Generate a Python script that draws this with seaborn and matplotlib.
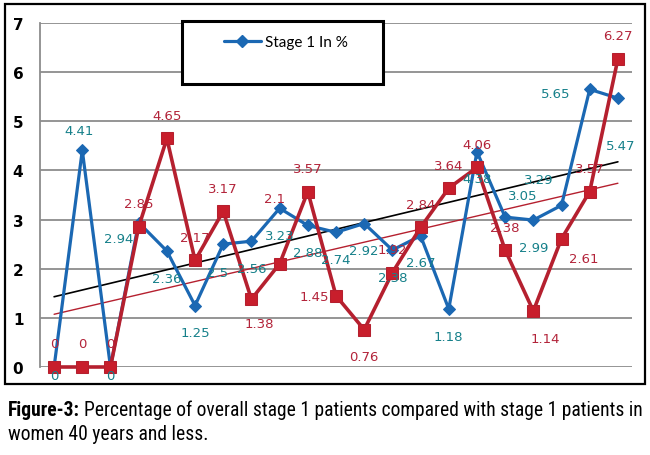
import numpy as np
import pandas as pd
import matplotlib.pyplot as plt
import seaborn as sns
from matplotlib import font_manager
from matplotlib.patches import Rectangle
from matplotlib.lines import Line2D

# values (21 consecutive groups, no x labels shown)
overall_stage1 = [0, 4.41, 0, 2.94, 2.36, 1.25, 2.5, 2.56, 3.23, 2.88, 2.74,
                  2.92, 2.38, 2.67, 1.18, 4.38, 3.05, 2.99, 3.29, 5.65, 5.47]
women40_stage1 = [0, 0, 0, 2.85, 4.65, 2.17, 3.17, 1.38, 2.1, 3.57, 1.45,
                  0.76, 1.92, 2.84, 3.64, 4.06, 2.38, 1.14, 2.61, 3.57, 6.27]
groups = list(range(len(overall_stage1)))
y_ticks = [0, 1, 2, 3, 4, 5, 6, 7]
legend_label = "Stage 1 In %"
caption_bold = "Figure-3:"
caption_line1 = "Percentage of overall stage 1 patients compared with stage 1 patients in"
caption_line2 = "women 40 years and less."

df = pd.DataFrame({"group": groups, "overall": overall_stage1, "women40": women40_stage1})

BLUE = "#1b68b3"
BLUE_TXT = "#16808a"
RED = "#b5202f"
RED_FACE = "#c81e2c"
RED_TXT = "#b3243a"
GRID = "#8c8c8c"

sns.set_style("white")
plt.rcParams["font.family"] = ["DejaVu Sans"]
plt.rcParams["text.color"] = "black"
plt.rcParams["ytick.labelcolor"] = "black"


def pick_condensed():
    # use a narrow face for the caption if one is installed
    for fam, stretch in [("Liberation Sans Narrow", "normal"), ("Roboto Condensed", "normal"),
                         ("Noto Sans", "condensed"), ("Open Sans", "condensed")]:
        fp = font_manager.FontProperties(family=fam, stretch=stretch)
        try:
            path = font_manager.findfont(fp, fallback_to_default=False)
        except ValueError:
            continue
        name = path.lower()
        if "narrow" in name or "condensed" in name:
            return fam, stretch
    return "DejaVu Sans", "normal"


cap_family, cap_stretch = pick_condensed()

fig = plt.figure(figsize=(6.5, 4.56), dpi=100)
ax = fig.add_axes([40 / 650, 1 - 368 / 456, 592 / 650, 344 / 456])

# trend lines (linear fit of each series)
sns.regplot(data=df, x="group", y="overall", scatter=False, ci=None, truncate=True,
            color="black", line_kws={"lw": 1.2, "zorder": 2}, ax=ax)
sns.regplot(data=df, x="group", y="women40", scatter=False, ci=None, truncate=True,
            color=RED, line_kws={"lw": 1.0, "zorder": 2}, ax=ax)

sns.lineplot(data=df, x="group", y="overall", color=BLUE, lw=2.3, marker="D",
             markersize=6, markeredgecolor=BLUE, clip_on=False, zorder=3, ax=ax)
sns.lineplot(data=df, x="group", y="women40", color=RED, lw=2.6, marker="s",
             markersize=8.5, markerfacecolor=RED_FACE, markeredgecolor=RED,
             clip_on=False, zorder=4, ax=ax)

# data labels: blue below, red above, a few moved (pixel offsets)
blue_off = {0: (0, -9), 1: (-3, 20), 2: (0, -9), 3: (-20, -16), 6: (-6, -28),
            16: (18, 22), 18: (-23, 26), 19: (-34, -4), 20: (3, -47)}
red_off = {7: (8, -24), 8: (-5, 65), 10: (-22, -1), 11: (0, -27), 17: (12, -28),
           18: (22, -20)}
for i, v in zip(groups, overall_stage1):
    dx, dy = blue_off.get(i, (0, -27))
    ax.annotate(f"{v:g}", (i, v), xytext=(dx, dy), textcoords="offset pixels",
                ha="center", va="center", fontsize=9.5, color=BLUE_TXT,
                annotation_clip=False, zorder=6)
for i, v in zip(groups, women40_stage1):
    dx, dy = red_off.get(i, (0, 23))
    ax.annotate(f"{v:g}", (i, v), xytext=(dx, dy), textcoords="offset pixels",
                ha="center", va="center", fontsize=9.5, color=RED_TXT,
                annotation_clip=False, zorder=6)

ax.set_xlim(-0.5, len(groups) - 0.5)
ax.set_ylim(0, 7)
ax.set_yticks(y_ticks)
ax.set_xticks([])
ax.set_xlabel("")
ax.set_ylabel("")
ax.yaxis.grid(True, color=GRID, lw=1.3)
ax.set_axisbelow(True)
for s in ["top", "right", "bottom"]:
    ax.spines[s].set_visible(False)
ax.spines["left"].set_color(GRID)
ax.spines["left"].set_linewidth(1.3)
ax.tick_params(axis="y", length=4, width=1.3, color=GRID, direction="out",
               labelsize=11, pad=8, labelcolor="black")
for t in ax.get_yticklabels():
    t.set_fontweight("bold")

# legend box
box = Rectangle((182 / 650, 1 - 85 / 456), 201 / 650, 63 / 456, transform=fig.transFigure,
                fc="white", ec="black", lw=2.2, zorder=20, clip_on=False)
ax.add_patch(box)
handle = Line2D([], [], color=BLUE, lw=2.3, marker="D", markersize=6)
leg = ax.legend([handle], [legend_label], loc="center", bbox_to_anchor=(286 / 650, 1 - 43 / 456),
                bbox_transform=fig.transFigure, frameon=False, handlelength=2.4,
                handletextpad=0.3, prop={"family": "Lato", "size": 11})
leg.set_zorder(21)
for t in leg.get_texts():
    t.set_color("black")

# outer frame
fig.add_artist(Rectangle((5 / 650, 1 - 385 / 456), 640 / 650, 380 / 456,
                         transform=fig.transFigure, fill=False, ec="black", lw=1.6))

# caption
kw = dict(family=cap_family, stretch=cap_stretch, va="baseline", color="black")
t0 = fig.text(8 / 650, 1 - 416 / 456, caption_bold, fontsize=13, fontweight="bold", **kw)
t1 = fig.text(0, 1 - 416 / 456, caption_line1, fontsize=13, **kw)
t2 = fig.text(8 / 650, 1 - 440 / 456, caption_line2, fontsize=13, **kw)

r = fig.canvas.get_renderer()
w0 = t0.get_window_extent(r).width
w1 = t1.get_window_extent(r).width
scale = min((640 - 8 - 4) / (w0 + w1), 16 / 13)
for t in (t0, t1, t2):
    t.set_fontsize(13 * scale)
w0 = t0.get_window_extent(r).width
t1.set_x((8 + w0 + 4) / 650)

fig.savefig("out.png", dpi=100)
